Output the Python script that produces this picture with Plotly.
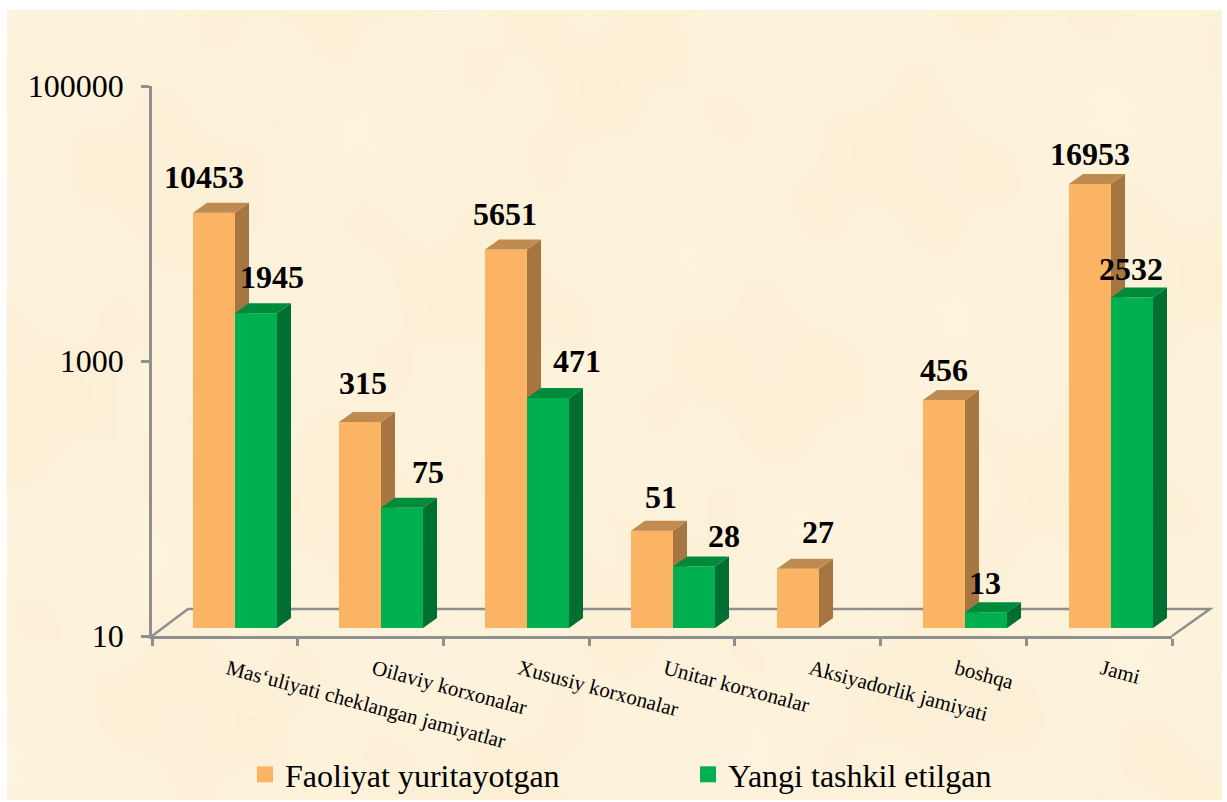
import base64
import math
import struct
import zlib

import numpy as np
import plotly.graph_objects as go

categories = ["Mas‘uliyati cheklangan jamiyatlar", "Oilaviy korxonalar", "Xususiy korxonalar",
              "Unitar korxonalar", "Aksiyadorlik jamiyati", "boshqa", "Jami"]
faoliyat = [10453, 315, 5651, 51, 27, 456, 16953]
yangi = [1945, 75, 471, 28, None, 13, 2532]
y_ticks = [10, 1000, 100000]
series_names = ["Faoliyat yuritayotgan", "Yangi tashkil etilgan"]

W, H = 1227, 802
FONT = "Liberation Serif"
GREY = "#8F8F8F"
X0, X1 = 152, 1172            # front floor edge, px
Y_TOP, Y_BOT = 86, 636        # value axis, px
FRONT_UP = 8                  # bars stand this far behind the front edge, px
DEPTH_X, DEPTH_Y = 14, 10     # bar depth, px
SLOT = (X1 - X0) / 7
STEP = 146 / SLOT             # bar groups repeat every 146 px
DECADE = (Y_BOT - Y_TOP) / 4
BAR_W = 42 / SLOT
OFF_O = 0.4255
OFF_G = 0.7138
DX = DEPTH_X / SLOT
DLOG = DEPTH_Y / DECADE

# label offsets from each bar's top centre, px
label_off_o = [(-10, 36), (3, 39), (-1, 36), (9, 34), (20, 37), (0, 30), (0, 30)]
label_off_g = [(16, 36), (26, 36), (29, 37), (30, 31), (0, 0), (-1, 29), (-1, 29)]


def px(x):
    return x / W


def py(y):
    return 1 - y / H


def parchment_png(w=300, h=200):
    """Very faint mottled paper: overlapping sine waves around the paper tone."""
    yy, xx = np.mgrid[0:h, 0:w]
    t = (np.sin(xx * 0.071 + yy * 0.043) + np.sin(xx * 0.033 - yy * 0.097 + 1.3)
         + np.sin(xx * 0.17 + yy * 0.13 + 2.1) * 0.6 + np.sin(xx * 0.23 - yy * 0.19 + 0.4) * 0.5)
    t = t / np.abs(t).max()
    rgb = np.stack([253 + t * 1, 242 + t * 2.5, 218 + t * 5], axis=-1).clip(0, 255).astype(np.uint8)
    raw = b"".join(b"\x00" + row.tobytes() for row in rgb)

    def chunk(tag, data):
        return struct.pack(">I", len(data)) + tag + data + struct.pack(">I", zlib.crc32(tag + data) & 0xFFFFFFFF)

    png = (b"\x89PNG\r\n\x1a\n" + chunk(b"IHDR", struct.pack(">IIBBBBB", w, h, 8, 2, 0, 0, 0))
           + chunk(b"IDAT", zlib.compress(raw, 9)) + chunk(b"IEND", b""))
    return "data:image/png;base64," + base64.b64encode(png).decode()


def solid(values, off, side_col, top_col, yaxis):
    """Side and top faces of each bar, derived from its value."""
    traces = []
    for i, v in enumerate(values):
        if v is None:
            continue
        c = i * STEP + off
        l, r = c - BAR_W / 2, c + BAR_W / 2
        k = 10 ** DLOG
        side = go.Scatter(x=[r, r + DX, r + DX, r, r], y=[10, 10 * k, v * k, v, 10],
                          fill="toself", fillcolor=side_col, mode="none", xaxis="x", yaxis=yaxis,
                          showlegend=False, hoverinfo="skip")
        top = go.Scatter(x=[l, l + DX, r + DX, r, l], y=[v, v * k, v * k, v, v],
                         fill="toself", fillcolor=top_col, mode="none", xaxis="x", yaxis=yaxis,
                         showlegend=False, hoverinfo="skip")
        traces += [side, top]
    return traces


fig = go.Figure()
ticks_mid = [i + 0.52 for i in range(7)]

# carries the category labels on the overlaid axis
fig.add_trace(go.Scatter(x=ticks_mid, y=faoliyat, mode="none", xaxis="x2", yaxis="y",
                         showlegend=False, hoverinfo="skip"))
# orange series
fig.add_trace(go.Bar(x=[i * STEP + OFF_O for i in range(7)], y=faoliyat, width=BAR_W, marker_color="#FBB464",
                     marker_line_width=0, xaxis="x", yaxis="y2", showlegend=False, name=series_names[0]))
fig.add_traces(solid(faoliyat, OFF_O, "#A5763F", "#C08B50", "y2"))
# green series, drawn later so that it covers the orange side faces
fig.add_trace(go.Bar(x=[i * STEP + OFF_G for i in range(7)], y=yangi, width=BAR_W, marker_color="#00B050",
                     marker_line_width=0, xaxis="x", yaxis="y3", showlegend=False, name=series_names[1]))
fig.add_traces(solid(yangi, OFF_G, "#006F32", "#008A3C", "y3"))

# legend entries
for name, col in zip(series_names, ["#FBB464", "#00B050"]):
    fig.add_trace(go.Scatter(x=[None], y=[None], mode="markers", name=name, xaxis="x", yaxis="y",
                             marker=dict(symbol="square", size=16, color=col)))

annotations = []
for values, off, offs, yref in [(faoliyat, OFF_O, label_off_o, "y2"), (yangi, OFF_G, label_off_g, "y3")]:
    for i, v in enumerate(values):
        if v is None:
            continue
        annotations.append(dict(x=i * STEP + off, y=math.log10(v), xref="x", yref=yref, text=f"<b>{v}</b>",
                                showarrow=False, xshift=offs[i][0], yshift=offs[i][1],
                                xanchor="center", yanchor="middle",
                                font=dict(family=FONT, size=32, color="black")))

images = [dict(source=parchment_png(), xref="paper", yref="paper", x=px(7), y=py(10),
               sizex=px(1222 - 7), sizey=(800 - 10) / H, xanchor="left", yanchor="top",
               sizing="stretch", layer="below")]

shapes = [
    dict(type="path", xref="paper", yref="paper", layer="below", line=dict(color=GREY, width=2.5),
         path=f"M {px(X0)} {py(Y_BOT)} L {px(188)} {py(609)} L {px(1210)} {py(609)} L {px(X1)} {py(Y_BOT)}"),
]

axis_line = dict(showline=True, linecolor=GREY, linewidth=2.5, showgrid=False, zeroline=False)
fig.update_layout(
    width=W, height=H, margin=dict(l=0, r=0, t=0, b=0, autoexpand=False), autosize=False,
    paper_bgcolor="white", plot_bgcolor="rgba(0,0,0,0)",
    barmode="overlay", annotations=annotations, shapes=shapes, images=images,
    font=dict(family=FONT, color="black"),
    xaxis=dict(domain=[px(X0), px(X1)], range=[0, 7], tickmode="array", tickvals=list(range(8)),
               ticktext=[""] * 8, ticks="outside", ticklen=7, tickwidth=2.5, tickcolor=GREY,
               anchor="y", **axis_line),
    xaxis2=dict(domain=[px(X0), px(X1)], range=[0, 7], overlaying="x", anchor="y", side="bottom",
                tickmode="array", tickvals=ticks_mid, ticktext=categories, tickangle=15,
                ticks="", ticklabelstandoff=16, showline=False, showgrid=False, zeroline=False,
                tickfont=dict(family=FONT, size=21, color="black")),
    yaxis=dict(domain=[py(Y_BOT), py(Y_TOP)], type="log", range=[1, 5], anchor="x",
               tickmode="array", tickvals=y_ticks, ticktext=[str(t) for t in y_ticks],
               ticks="outside", ticklen=8, tickwidth=2.5, tickcolor=GREY, ticklabelstandoff=11,
               tickfont=dict(family=FONT, size=32, color="black"), **axis_line),
    yaxis2=dict(domain=[py(Y_BOT - FRONT_UP), py(Y_TOP - FRONT_UP)], type="log", range=[1, 5], anchor="x", visible=False),
    yaxis3=dict(domain=[py(Y_BOT - FRONT_UP), py(Y_TOP - FRONT_UP)], type="log", range=[1, 5], anchor="x", visible=False),
    legend=dict(orientation="h", x=px(245), y=py(747), xanchor="left", yanchor="top",
                bgcolor="rgba(0,0,0,0)", entrywidth=398, entrywidthmode="pixels",
                font=dict(family=FONT, size=32, color="black"), itemclick=False, itemdoubleclick=False),
)

fig.write_html("out.html", config={"displayModeBar": False},
               post_script="document.body.style.margin='0';document.body.style.overflow='hidden';")
